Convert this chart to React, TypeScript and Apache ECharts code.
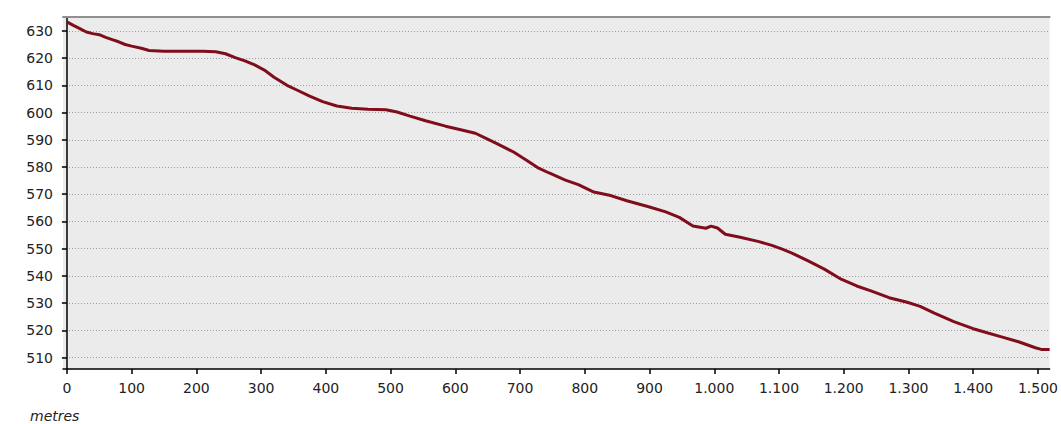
import React, { useEffect, useRef } from "react";
import * as echarts from "echarts";

const distances = [
  0, 10, 20, 30, 40, 50, 60, 70, 80, 90, 100, 115, 127, 150, 180, 210, 230, 245,
  260, 275, 290, 305, 320, 340, 356, 375, 395, 417, 440, 465, 493, 510, 530, 554,
  585, 610, 631, 645, 665, 690, 710, 727, 745, 770, 790, 814, 840, 865, 900, 925,
  946, 967, 987, 995, 1005, 1017, 1040, 1069, 1089, 1105, 1120, 1145, 1170, 1196,
  1220, 1242, 1270, 1298, 1318, 1340, 1370, 1400, 1420, 1445, 1470, 1496, 1505, 1518,
];
const elevations = [
  633.3, 632, 630.8, 629.6, 629, 628.6, 627.6, 626.8, 626, 625, 624.4, 623.6, 622.8,
  622.5, 622.5, 622.5, 622.3, 621.6, 620.2, 619, 617.5, 615.6, 613, 610, 608.2, 606,
  604, 602.4, 601.6, 601.2, 601, 600.2, 598.7, 597, 595, 593.6, 592.4, 590.8, 588.5,
  585.5, 582.5, 579.8, 577.8, 575.2, 573.5, 570.8, 569.5, 567.6, 565.3, 563.5, 561.5,
  558.3, 557.5, 558.3, 557.6, 555.3, 554.2, 552.6, 551.2, 549.8, 548.4, 545.5, 542.5,
  538.8, 536.3, 534.5, 532, 530.3, 528.8, 526.3, 523.2, 520.6, 519.2, 517.5, 515.8,
  513.6, 513, 513,
];
const xTicks = [0, 100, 200, 300, 400, 500, 600, 700, 800, 900, 1000, 1100, 1200, 1300, 1400, 1500];
const yTicks = [510, 520, 530, 540, 550, 560, 570, 580, 590, 600, 610, 620, 630];
const xUnit = "metres";

const FONT = "'DejaVu Sans', Verdana, sans-serif";

function fmtThousands(v: number): string {
  const s = String(Math.round(v));
  return s.replace(/\B(?=(\d{3})+(?!\d))/g, ".");
}

export default function App() {
  const ref = useRef<HTMLDivElement>(null);
  useEffect(() => {
    if (!ref.current) return;
    const chart = echarts.init(ref.current, undefined, { renderer: "svg" });
    const data = distances.map((d, i) => [d, elevations[i]]);
    chart.setOption({
      animation: false,
      backgroundColor: "#ffffff",
      grid: {
        left: 63,
        top: 17,
        right: 0,
        bottom: 55,
        show: true,
        backgroundColor: "#ebebeb",
        borderWidth: 0,
      },
      xAxis: [
        {
          type: "value",
          min: -6,
          max: 1518,
          position: "bottom",
          axisLine: { show: true, lineStyle: { color: "#000", width: 1.5 } },
          axisTick: { show: true, length: 5, customValues: xTicks, lineStyle: { color: "#000", width: 1.5 } },
          axisLabel: {
            customValues: xTicks,
            formatter: (v: number) => fmtThousands(v),
            color: "#222",
            fontFamily: FONT,
            fontSize: 14,
            margin: 12,
          },
          splitLine: { show: false },
        },
        {
          type: "value",
          min: -6,
          max: 1518,
          position: "top",
          axisLine: { show: true, lineStyle: { color: "#8f8f8f", width: 2 } },
          axisTick: { show: false },
          axisLabel: { show: false },
          splitLine: { show: false },
        },
      ],
      yAxis: {
        type: "value",
        min: 505.8,
        max: 635.1,
        axisLine: { show: true, lineStyle: { color: "#000", width: 1.5 } },
        axisTick: { show: true, length: 5, customValues: yTicks, lineStyle: { color: "#000", width: 1.5 } },
        axisLabel: {
          customValues: yTicks,
          color: "#222",
          fontFamily: FONT,
          fontSize: 14,
          margin: 10,
        },
        splitLine: {
          show: true,
          lineStyle: { color: "#a0a0a0", type: [1, 2], width: 1 },
        },
      },
      graphic: [
        {
          type: "text",
          left: 30,
          top: 409,
          style: {
            text: xUnit,
            fontFamily: FONT,
            fontSize: 14,
            fontStyle: "italic",
            fill: "#222",
          },
        },
      ],
      series: [
        {
          type: "line",
          xAxisIndex: 0,
          data,
          showSymbol: false,
          smooth: false,
          lineStyle: { color: "#7f0d1c", width: 3 },
        },
      ],
    });
    return () => chart.dispose();
  }, []);
  return (
    <div
      ref={ref}
      style={{ position: "fixed", left: 0, top: 0, width: 1061, height: 424 }}
    />
  );
}
